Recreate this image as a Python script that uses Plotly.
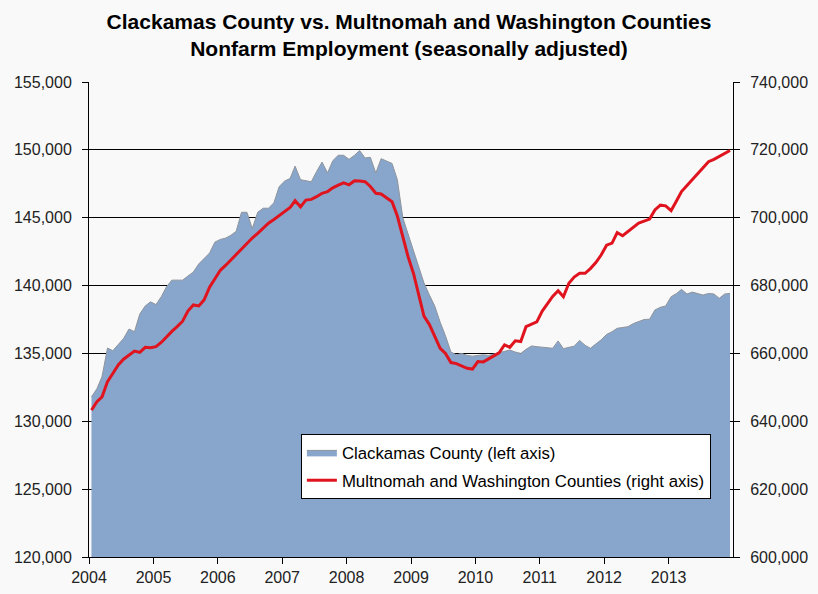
import pandas as pd
import plotly.graph_objects as go

# monthly, Jan 2004 - Dec 2013 (plotted mid-month)
months = pd.date_range('2004-01-01', periods=120, freq='MS') + pd.Timedelta(days=14)

clackamas = [
    131800, 132400, 133300, 135400, 135200, 135700, 136100, 136800, 136600, 137900, 138500, 138800,
    138600, 139200, 139900, 140400, 140400, 140400, 140700, 141000, 141600, 142000, 142400, 143200,
    143400, 143500, 143700, 144000, 145400, 145400, 144200, 145400, 145700, 145700, 146100, 147300,
    147700, 147900, 148800, 147800, 147700, 147650, 148400, 149100, 148300, 149200, 149600, 149600,
    149300, 149600, 149950, 149400, 149450, 148300, 149350, 149200, 149000, 147800, 145000, 143800,
    142600, 141300, 140200, 139300, 138500, 137300, 136300, 135100, 134900, 135000, 134850, 134800,
    134850, 134900, 134850, 134950, 135000, 135100, 135250, 135100, 135000, 135300, 135550, 135500,
    135450, 135450, 135380, 135920, 135350, 135450, 135530, 135960, 135600, 135380, 135700, 136000,
    136400, 136600, 136850, 136900, 136970, 137200, 137340, 137500, 137520, 138200, 138400, 138500,
    139180, 139420, 139720, 139380, 139520, 139400, 139300, 139420, 139380, 139060, 139380, 139420,
]

multwash = [
    643300, 645800, 647200, 651700, 654100, 656600, 658300, 659500, 660700, 660300, 661800, 661700,
    662000, 663300, 664900, 666500, 667900, 669500, 672500, 674300, 674000, 675800, 679500, 682100,
    684500, 686000, 687500, 689000, 690800, 692500, 694000, 695400, 696800, 698400, 699500, 700600,
    702000, 703000, 705000, 703200, 705200, 705400, 706200, 707200, 707700, 708800, 709600, 710300,
    709700, 710900, 710800, 710600, 709200, 707200, 707000, 705800, 704700, 700500, 694500, 688500,
    683500, 677000, 671000, 668500, 665000, 661500, 660000, 657300, 657000, 656200, 655600, 655400,
    657600, 657500, 658300, 659200, 660200, 662500, 661800, 663700, 663500, 667900, 668500, 669300,
    672500, 674800, 676800, 678500, 676700, 680700, 682500, 683600, 683600, 685000, 686800, 689000,
    691900, 692500, 695600, 694700, 696000, 697300, 698400, 699000, 699600, 702300, 703700, 703500,
    702100, 705000, 707700, 709500, 711300, 713000, 714800, 716500, 717200, 718000, 718900, 719800,
]

year_ticks = [pd.Timestamp(f'{y}-01-01') for y in range(2004, 2014)]
year_labels = [str(y) for y in range(2004, 2014)]

font = 'Liberation Sans, Arial, sans-serif'

fig = go.Figure()
fig.add_trace(go.Scatter(
    x=months, y=clackamas, name='Clackamas County (left axis)',
    mode='lines', fill='tozeroy', fillcolor='#88a6cc',
    line=dict(color='#8e949c', width=1),
    legendgroup='a',
))
fig.add_trace(go.Scatter(
    x=months, y=multwash, name='Multnomah and Washington Counties (right axis)',
    mode='lines', line=dict(color='#e0141e', width=3),
    yaxis='y2', legendgroup='b',
))

fig.update_layout(
    width=818, height=594,
    margin=dict(l=89, r=85, t=82, b=37),
    paper_bgcolor='#f9f9f9', plot_bgcolor='#f9f9f9',
    font=dict(family=font, size=16, color='#222222'),
    title=dict(
        text='<b>Clackamas County vs. Multnomah and Washington Counties<br>'
             'Nonfarm Employment (seasonally adjusted)</b>',
        font=dict(family=font, size=21, color='black'),
        x=0.5, xref='container', xanchor='center',
        y=0.951, yref='container', yanchor='middle',
    ),
    xaxis=dict(
        range=[pd.Timestamp('2004-01-01'), pd.Timestamp('2014-01-01')],
        tickvals=year_ticks, ticktext=year_labels,
        ticks='outside', ticklen=6, tickcolor='black',
        showline=True, linecolor='black', linewidth=1,
        showgrid=False, zeroline=False, automargin=False,
    ),
    yaxis=dict(
        range=[120000, 155000], dtick=5000, tickformat=',',
        ticks='outside', ticklen=6, tickcolor='black', ticklabelstandoff=7,
        showline=True, linecolor='black', linewidth=1,
        showgrid=True, gridcolor='black', gridwidth=1, zeroline=False,
        automargin=False,
    ),
    yaxis2=dict(
        range=[600000, 740000], dtick=20000, tickformat=',',
        overlaying='y', side='right',
        ticks='outside', ticklen=6, tickcolor='black', ticklabelstandoff=7,
        showline=True, linecolor='black', linewidth=1,
        showgrid=False, zeroline=False, automargin=False,
    ),
    legend=dict(
        x=0.329, y=0.259, xanchor='left', yanchor='top',
        bgcolor='white', bordercolor='black', borderwidth=1,
        font=dict(family=font, size=16.8, color='black'),
        traceorder='grouped', tracegroupgap=3,
    ),
    showlegend=True,
)

fig.write_html('out.html', config={'displayModeBar': False},
               post_script="document.body.style.margin='0px';")
